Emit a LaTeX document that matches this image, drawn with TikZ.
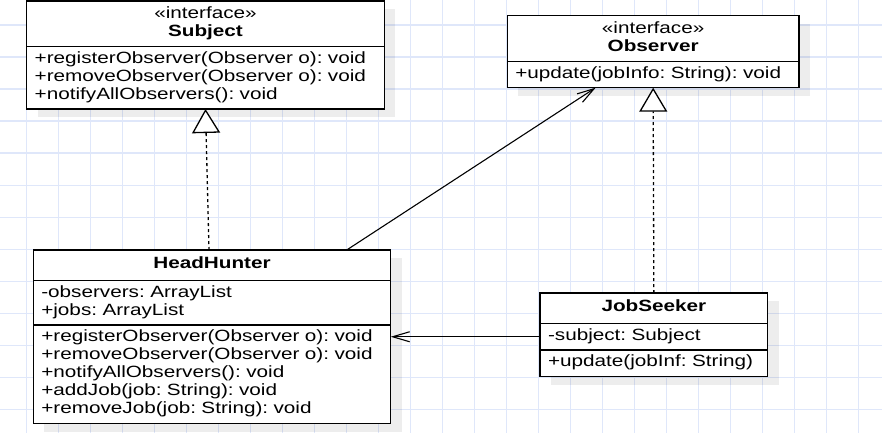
\documentclass[tikz,border=0pt]{standalone}
\usepackage{fontspec}
\setmainfont[FakeStretch=1.27]{Liberation Sans}
\usepackage{xcolor}
\usepackage{tikz}
\usetikzlibrary{arrows.meta, positioning, shadows}
\frenchspacing
\definecolor{gridblue}{HTML}{DFE7FA}
\tikzstyle{gridline} = [draw=gridblue, line width=1.5pt]
\tikzstyle{umlpart} = [rectangle, draw, line width=1.3pt, fill=white, outer sep=0pt, inner xsep=8pt, inner ysep=4.25pt, align=left, font=\fontsize{16.3}{18}\selectfont, execute at begin node=\strut, execute at end node=\strut, drop shadow={shadow xshift=11pt, shadow yshift=-8pt, fill=black, opacity=0.07}]
\tikzstyle{umlhead} = [umlpart, align=center, minimum height=30.5pt]
\tikzstyle{inherit} = [line width=1.3pt, dash pattern=on 3pt off 3pt, -{Triangle[length=24pt, width=28pt, fill=white]}]
\tikzstyle{assoc} = [line width=1.1pt, -{Straight Barb[length=17pt, width=10pt]}]

\begin{document}
\begin{tikzpicture}[x=1pt, y=-1pt]
    \useasboundingbox (0,0) rectangle (882,433);
    \foreach \i in {0,...,26} \draw[gridline] (26.7+32*\i,0) -- (26.7+32*\i,433);
    \foreach \j in {0,...,12} \draw[gridline] (0,25+32.05*\j) -- (882,25+32.05*\j);

    \node (subjHead) [umlhead, minimum height=45.5pt, text width=341.6pt, anchor=north west] at (26.7,1) {«interface»\\\textbf{Subject}};
    \node (subjOps) [umlpart, text width=341.6pt, below=0pt of subjHead] {+registerObserver(Observer o): void\\+removeObserver(Observer o): void\\+notifyAllObservers(): void};

    \node (obsHead) [umlhead, minimum height=45.5pt, text width=275.7pt, anchor=north west] at (507.3,15.7) {«interface»\\\textbf{Observer}};
    \node (obsOps) [umlpart, text width=275.7pt, below=0pt of obsHead] {+update(jobInfo: String): void};

    \node (hhHead) [umlhead, text width=341.4pt, anchor=north west] at (33.3,250) {\textbf{HeadHunter}};
    \node (hhAttr) [umlpart, text width=341.4pt, below=0pt of hhHead] {-observers: ArrayList\\+jobs: ArrayList};
    \node (hhOps) [umlpart, text width=341.4pt, below=0pt of hhAttr] {+registerObserver(Observer o): void\\+removeObserver(Observer o): void\\+notifyAllObservers(): void\\+addJob(job: String): void\\+removeJob(job: String): void};

    \node (jsHead) [umlhead, text width=211.7pt, anchor=north west] at (540,293) {\textbf{JobSeeker}};
    \node (jsAttr) [umlpart, text width=211.7pt, below=0pt of jsHead] {-subject: Subject};
    \node (jsOps) [umlpart, text width=211.7pt, below=0pt of jsAttr] {+update(jobInf: String)};

    \draw[inherit] ([xshift=-3pt]hhHead.north) -- (subjOps.south);
    \draw[inherit] (jsHead.north) -- (obsOps.south);
    \draw[assoc] ([xshift=134.7pt]hhHead.north) -- ([xshift=-57.5pt]obsOps.south);
    \draw[assoc] (jsAttr.west) -- (jsAttr.west -| hhOps.east);
\end{tikzpicture}
\end{document}
